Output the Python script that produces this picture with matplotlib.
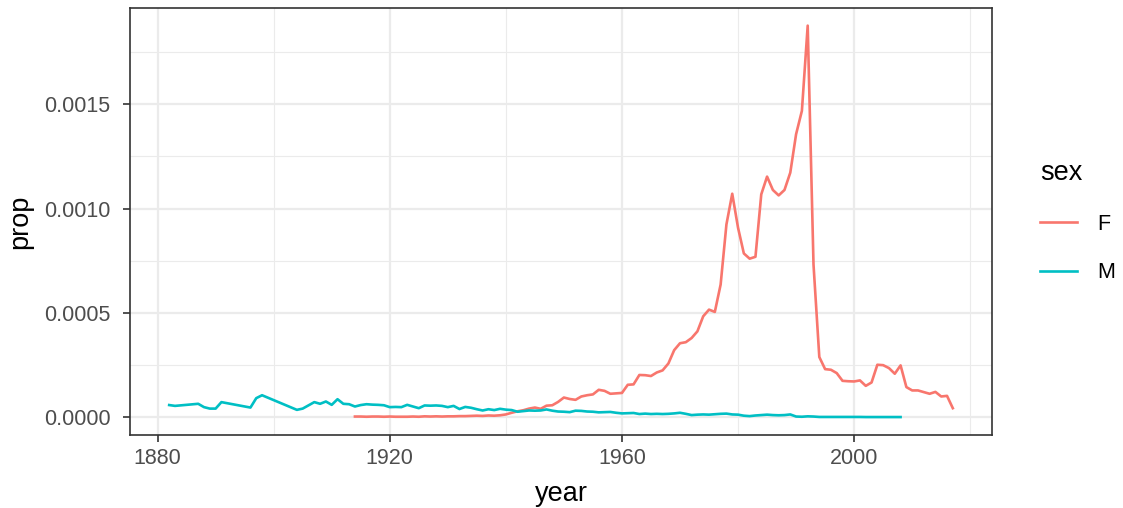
#!/usr/bin/env python3

# babynames style plot: proportion of babies given the name, by year and sex
import numpy as np
import matplotlib
matplotlib.use("Agg")
import matplotlib.pyplot as plt
from matplotlib.ticker import MultipleLocator, FixedLocator

plt.rcParams["font.family"] = ["Liberation Sans", "DejaVu Sans"]

# data
female_years = list(range(1914, 2018))
female_prop = [
    4e-6, 4e-6, 3e-6, 4e-6, 4e-6, 3e-6, 4e-6, 3e-6, 3e-6, 3e-6,          # 1914-1923
    4e-6, 3e-6, 5e-6, 4e-6, 5e-6, 4e-6, 5e-6, 5e-6, 6e-6, 6e-6,          # 1924-1933
    7e-6, 8e-6, 7e-6, 9e-6, 8e-6, 1.0e-5, 1.4e-5, 2.2e-5, 2.9e-5, 3.4e-5,  # 1934-1943
    4.2e-5, 4.7e-5, 4.1e-5, 5.6e-5, 5.8e-5, 7.4e-5, 9.5e-5, 8.8e-5, 8.4e-5, 1.0e-4,  # 1944-1953
    1.06e-4, 1.1e-4, 1.32e-4, 1.27e-4, 1.13e-4, 1.15e-4, 1.17e-4, 1.56e-4, 1.58e-4, 2.03e-4,  # 1954-1963
    2.02e-4, 1.98e-4, 2.15e-4, 2.25e-4, 2.58e-4, 3.22e-4, 3.55e-4, 3.6e-4, 3.8e-4, 4.12e-4,  # 1964-1973
    4.84e-4, 5.16e-4, 5.05e-4, 6.36e-4, 9.24e-4, 1.071e-3, 9.08e-4, 7.85e-4, 7.6e-4, 7.69e-4,  # 1974-1983
    1.068e-3, 1.153e-3, 1.089e-3, 1.063e-3, 1.089e-3, 1.172e-3, 1.356e-3, 1.468e-3, 1.876e-3, 7.32e-4,  # 1984-1993
    2.89e-4, 2.31e-4, 2.28e-4, 2.12e-4, 1.75e-4, 1.73e-4, 1.72e-4, 1.77e-4, 1.51e-4, 1.67e-4,  # 1994-2003
    2.52e-4, 2.5e-4, 2.36e-4, 2.09e-4, 2.49e-4, 1.45e-4, 1.29e-4, 1.29e-4, 1.21e-4, 1.13e-4,  # 2004-2013
    1.22e-4, 1.0e-4, 1.03e-4, 4.4e-5,                                    # 2014-2017
]

male_years = [1882, 1883, 1887, 1888, 1889, 1890, 1891, 1896, 1897, 1898,
              1904, 1905, 1907, 1908, 1909, 1910, 1911, 1912, 1913, 1914,
              1915, 1916, 1917] + list(range(1918, 2009))
male_prop = [
    5.9e-5, 5.5e-5, 6.5e-5, 4.9e-5, 4.2e-5, 4.2e-5, 7.3e-5, 4.7e-5, 9.2e-5, 1.06e-4,
    3.6e-5, 4.2e-5, 7.3e-5, 6.5e-5, 7.6e-5, 6.0e-5, 8.7e-5, 6.5e-5, 6.3e-5, 5.2e-5,
    5.9e-5, 6.3e-5, 6.1e-5,
    6.0e-5, 5.8e-5, 4.9e-5, 5.0e-5, 4.9e-5, 6.0e-5, 5.2e-5, 4.4e-5, 5.7e-5, 5.6e-5,  # 1918-1927
    5.7e-5, 5.5e-5, 4.9e-5, 5.5e-5, 4.0e-5, 5.0e-5, 4.6e-5, 3.9e-5, 3.3e-5, 3.9e-5,  # 1928-1937
    3.5e-5, 4.1e-5, 3.7e-5, 3.5e-5, 2.7e-5, 3.0e-5, 3.3e-5, 3.2e-5, 3.3e-5, 3.8e-5,  # 1938-1947
    3.2e-5, 2.8e-5, 2.7e-5, 2.5e-5, 3.2e-5, 3.1e-5, 2.8e-5, 2.7e-5, 2.4e-5, 2.5e-5,  # 1948-1957
    2.6e-5, 2.2e-5, 1.9e-5, 2.0e-5, 2.1e-5, 1.6e-5, 1.8e-5, 1.6e-5, 1.7e-5, 1.6e-5,  # 1958-1967
    1.7e-5, 1.9e-5, 2.2e-5, 1.7e-5, 1.1e-5, 1.3e-5, 1.4e-5, 1.3e-5, 1.5e-5, 1.7e-5,  # 1968-1977
    1.8e-5, 1.4e-5, 1.3e-5, 8e-6, 6e-6, 9e-6, 1.1e-5, 1.3e-5, 1.1e-5, 1.0e-5,        # 1978-1987
    1.1e-5, 1.4e-5, 4e-6, 3e-6, 5e-6, 4e-6, 2e-6, 2e-6, 2e-6, 2e-6,                  # 1988-1997
    2e-6, 2e-6, 2e-6, 2e-6, 1.5e-6, 1.5e-6, 1.5e-6, 1.5e-6, 1.5e-6, 1.5e-6, 1.5e-6,  # 1998-2008
]

sex_labels = ["F", "M"]
sex_colors = {"F": "#F8766D", "M": "#00BFC4"}


def main():
    fig = plt.figure(figsize=(11.23, 5.08), dpi=100)
    ax = fig.add_axes([130 / 1123, 73 / 508, 862 / 1123, 427 / 508])
    ax.set_facecolor("white")

    ax.plot(female_years, female_prop, color=sex_colors["F"], lw=1.9,
            label="F")
    ax.plot(male_years, male_prop, color=sex_colors["M"], lw=1.9,
            label="M")

    # ggplot like 5% expansion
    xmin, xmax = min(male_years + female_years), max(male_years + female_years)
    allp = female_prop + male_prop
    ymin, ymax = 0.0, max(allp)
    xpad = (xmax - xmin) * 0.05
    ypad = (ymax - ymin) * 0.045
    ax.set_xlim(xmin - xpad, xmax + xpad)
    ax.set_ylim(ymin - ypad, ymax + ypad)

    ax.xaxis.set_major_locator(FixedLocator([1880, 1920, 1960, 2000]))
    ax.xaxis.set_minor_locator(FixedLocator([1900, 1940, 1980, 2020]))
    ax.yaxis.set_major_locator(MultipleLocator(0.0005))
    ax.yaxis.set_minor_locator(FixedLocator([0.00025, 0.00075, 0.00125, 0.00175]))
    ax.yaxis.set_major_formatter(plt.FuncFormatter(lambda v, p: f"{v:.4f}"))

    ax.grid(which="major", color="#EBEBEB", lw=1.6)
    ax.grid(which="minor", color="#EBEBEB", lw=0.8)
    ax.set_axisbelow(True)

    for s in ax.spines.values():
        s.set_color("#333333")
        s.set_linewidth(1.2)

    ax.tick_params(which="major", length=5, width=1.2, color="#333333",
                   labelsize=15.5, labelcolor="#4D4D4D", pad=4)
    ax.tick_params(axis="y", which="major", pad=9)
    ax.tick_params(which="minor", length=0)

    ax.set_xlabel("year", fontsize=19.5, labelpad=9)
    ax.set_ylabel("prop", fontsize=19.5, labelpad=8)

    ax.legend(title="sex", loc="center left", bbox_to_anchor=(1.033, 0.50),
              frameon=False, fontsize=15.5, title_fontsize=19.5,
              handlelength=1.75, handletextpad=0.9, labelspacing=1.3,
              alignment="left")

    fig.savefig("out.png", dpi=100)


if __name__ == "__main__":
    main()
